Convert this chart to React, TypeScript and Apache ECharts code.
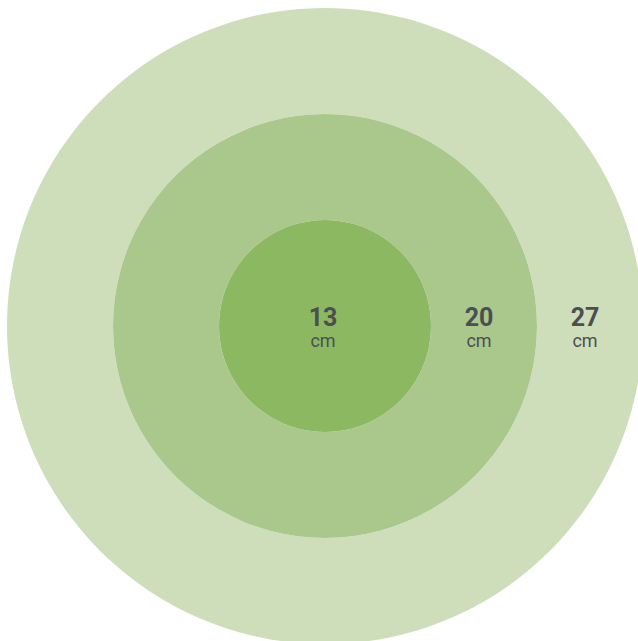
import React, { useEffect, useRef } from "react";
import * as echarts from "echarts";

const sizes = [13, 20, 27];
const unit = "cm";
const colors = ["#8db862", "#aac88c", "#cfdeba"];

const RING = 106;
const CX = 325;
const CY = 326;

export default function App() {
  const ref = useRef<HTMLDivElement>(null);
  useEffect(() => {
    if (!ref.current) return;
    const chart = echarts.init(ref.current, null, { renderer: "svg" });
    const series = sizes.map((v, i) => ({
      type: "pie",
      silent: true,
      center: [CX, CY],
      radius: [i * RING, (i + 1) * RING],
      startAngle: 180,
      clockwise: true,
      z: 3 - i,
      labelLine: { show: false },
      itemStyle: { color: colors[i], borderWidth: 0 },
      label: {
        show: true,
        position: i === 0 ? "center" : "inside",
        offset: i === 0 ? [-2, 1] : [-8, 1],
        formatter: "{v|{c}}\n{u|" + unit + "}",
        rich: {
          v: {
            fontFamily: "Roboto",
            fontSize: 25,
            fontWeight: "bold",
            color: "#4b4f53",
            lineHeight: 27,
            align: "center",
          },
          u: {
            fontFamily: "Roboto",
            fontSize: 18,
            color: "#4b4f53",
            lineHeight: 20,
            align: "center",
          },
        },
      },
      data: [{ value: v, name: String(v) }],
    }));
    chart.setOption({
      animation: false,
      backgroundColor: "#ffffff",
      series,
    });
    return () => chart.dispose();
  }, []);
  return (
    <div
      ref={ref}
      style={{ position: "fixed", left: 0, top: 0, width: 638, height: 641 }}
    />
  );
}
